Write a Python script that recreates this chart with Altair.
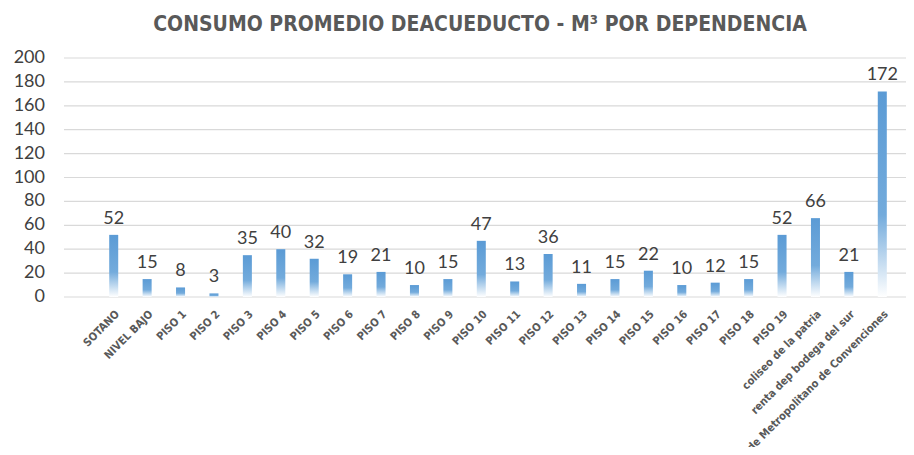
import altair as alt
import pandas as pd

categories = ["SOTANO", "NIVEL BAJO", "PISO 1", "PISO 2", "PISO 3", "PISO 4", "PISO 5",
              "PISO 6", "PISO 7", "PISO 8", "PISO 9", "PISO 10", "PISO 11", "PISO 12",
              "PISO 13", "PISO 14", "PISO 15", "PISO 16", "PISO 17", "PISO 18", "PISO 19",
              "coliseo de la patria", "renta dep bodega del sur",
              "Centro de Metropolitano de Convenciones"]
values = [52, 15, 8, 3, 35, 40, 32, 19, 21, 10, 15, 47, 13, 36, 11, 15, 22, 10, 12, 15,
          52, 66, 21, 172]
y_ticks = [0, 20, 40, 60, 80, 100, 120, 140, 160, 180, 200]

df = pd.DataFrame({"cat": categories, "val": values})
grid_df = pd.DataFrame({"t": y_ticks})

COND = "'DejaVu Sans Condensed', 'Liberation Sans Narrow', 'Arial Narrow', sans-serif"

W, H = 802, 239
yscale = alt.Scale(domain=[0, 200], nice=False)
xscale = alt.Scale(paddingInner=0.73, paddingOuter=0.365)

grid = alt.Chart(grid_df).mark_rule(color="#d9d9d9", strokeWidth=1.2).encode(
    y=alt.Y("t:Q", scale=yscale, title=None, axis=None),
    x=alt.value(-33),
    x2=alt.value(812),
)

ylabels = alt.Chart(grid_df).mark_text(
    font="Lato", fontSize=18, color="#404040", align="right", baseline="middle"
).encode(
    y=alt.Y("t:Q", scale=yscale, axis=None),
    x=alt.value(-52),
    text=alt.Text("t:Q"),
)

gradient = alt.Gradient(
    gradient="linear", x1=0, y1=0, x2=0, y2=1,
    stops=[alt.GradientStop(offset=0, color="#5b9bd5"),
           alt.GradientStop(offset=0.6, color="#73abdc"),
           alt.GradientStop(offset=1, color="#ffffff")],
)

x_enc = alt.X("cat:N", sort=None, scale=xscale, title=None,
              axis=alt.Axis(labelAngle=-45, domain=False, ticks=False, labelPadding=11,
                            labelFont=COND, labelFontSize=11,
                            labelFontWeight="bold", labelColor="#595959", labelLimit=400,
                            labelOverlap=False))

bars = alt.Chart(df).mark_bar(color=gradient).encode(
    x=x_enc,
    y=alt.Y("val:Q", scale=yscale, title=None, axis=None),
)

labels = alt.Chart(df).mark_text(font="Lato", fontSize=18, color="#404040",
                                 baseline="alphabetic", dy=-11).encode(
    x=alt.X("cat:N", sort=None, scale=xscale),
    y=alt.Y("val:Q", scale=yscale, axis=None),
    text=alt.Text("val:Q"),
)

chart = alt.layer(grid, ylabels, bars, labels).properties(
    width=W, height=H,
    autosize=alt.AutoSizeParams(type="none"),
    padding={"left": 89, "top": 50, "right": 7, "bottom": 150},
    title=alt.TitleParams(
        "CONSUMO PROMEDIO DEACUEDUCTO - M³ POR DEPENDENCIA",
        font=COND, fontSize=21, fontWeight="bold",
        color="#595959", anchor="middle", frame="group", dx=-18, offset=14,
    ),
).configure_view(stroke=None)

chart.save("out.html", embed_options={"renderer": "svg", "actions": False})
